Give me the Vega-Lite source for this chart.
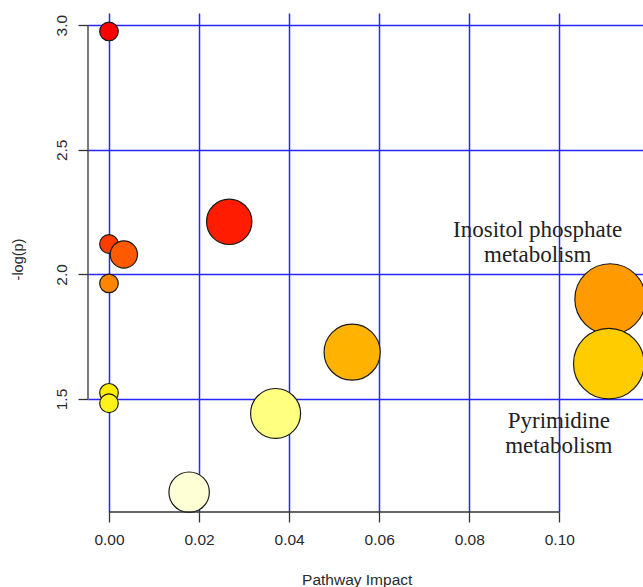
{
  "$schema": "https://vega.github.io/schema/vega-lite/v6.json",
  "width": 555,
  "height": 499,
  "autosize": {"type": "none"},
  "padding": {"left": 88, "top": 13, "right": 0, "bottom": 75},
  "background": "white",
  "config": {"view": {"stroke": null}, "font": "Liberation Sans"},
  "datasets": {
    "pathways": [
      {"impact": 0.0, "logp": 2.975},
      {"impact": 0.0267, "logp": 2.211},
      {"impact": 0.0, "logp": 2.122},
      {"impact": 0.0033, "logp": 2.08},
      {"impact": 0.0, "logp": 1.964},
      {"impact": 0.1113, "logp": 1.901},
      {"impact": 0.054, "logp": 1.688},
      {"impact": 0.1110, "logp": 1.642},
      {"impact": 0.0, "logp": 1.525},
      {"impact": 0.0, "logp": 1.483},
      {"impact": 0.037, "logp": 1.442},
      {"impact": 0.0178, "logp": 1.126}
    ],
    "labels": [
      {"impact": 0.0952, "logp": 2.151, "label": "Inositol phosphate\nmetabolism"},
      {"impact": 0.0999, "logp": 1.385, "label": "Pyrimidine\nmetabolism"}
    ]
  },
  "layer": [
    {
      "data": {"name": "pathways"},
      "mark": {"type": "circle", "opacity": 1, "stroke": "#1a1a1a", "strokeWidth": 1.2},
      "encoding": {
        "x": {
          "field": "impact", "type": "quantitative", "title": "Pathway Impact",
          "scale": {"domain": [-0.00466, 0.11859], "nice": false, "zero": false},
          "axis": {
            "values": [0, 0.02, 0.04, 0.06, 0.08, 0.1], "format": ".2f",
            "domain": false, "tickColor": "#333", "tickSize": 10, "tickWidth": 1.3,
            "grid": true, "gridColor": "#2626ff", "gridWidth": 1.5,
            "labelFont": "Liberation Sans", "labelFontSize": 15.5, "labelColor": "#2a2a2a",
            "labelPadding": 10, "labelBaseline": "top",
            "titleFont": "Liberation Sans", "titleFontSize": 15.5, "titleFontWeight": "normal",
            "titleColor": "#2a2a2a", "titleX": 268.7, "titleY": 72, "titleBaseline": "alphabetic", "titleAlign": "center"
          }
        },
        "y": {
          "field": "logp", "type": "quantitative", "title": "-log(p)",
          "scale": {"domain": [1.0466, 3.049], "nice": false, "zero": false},
          "axis": {
            "values": [1.5, 2, 2.5, 3], "format": ".1f",
            "domain": false, "tickColor": "#333", "tickSize": 10, "tickWidth": 1.3,
            "grid": true, "gridColor": "#2626ff", "gridWidth": 1.5,
            "labelFont": "Liberation Sans", "labelFontSize": 15.5, "labelColor": "#2a2a2a",
            "labelAngle": 270, "labelAlign": "center", "labelBaseline": "bottom", "labelPadding": 9,
            "titleFont": "Liberation Sans", "titleFontSize": 14.5, "titleFontWeight": "normal",
            "titleColor": "#2a2a2a", "titleAngle": 270, "titleX": -70, "titleY": 246,
            "titleAlign": "center", "titleBaseline": "middle"
          }
        },
        "size": {
          "field": "impact", "type": "quantitative",
          "scale": {"type": "pow", "exponent": 0.7, "domain": [0, 0.1113], "range": [346, 4998]},
          "legend": null
        },
        "color": {
          "field": "logp", "type": "ordinal", "sort": "descending",
          "scale": {"range": ["#ff0000", "#ff1c00", "#ff3c00", "#ff5a00", "#ff8400", "#ff9a00", "#ffb200", "#ffcc00", "#ffee00", "#fff21a", "#ffff80", "#ffffd6"]},
          "legend": null
        }
      }
    },
    {
      "data": {"values": [{}]},
      "mark": {"type": "rule", "color": "#333", "strokeWidth": 1.3},
      "encoding": {"x": {"datum": -0.00466}, "y": {"datum": 1.5}, "y2": {"datum": 3.0}}
    },
    {
      "data": {"values": [{}]},
      "mark": {"type": "rule", "color": "#333", "strokeWidth": 1.3},
      "encoding": {"y": {"datum": 1.0466}, "x": {"datum": 0}, "x2": {"datum": 0.1}}
    },
    {
      "data": {"name": "labels"},
      "mark": {"type": "text", "font": "Liberation Serif", "fontSize": 23, "lineBreak": "\n", "lineHeight": 25.5, "align": "center", "baseline": "alphabetic", "color": "#222"},
      "encoding": {
        "x": {"field": "impact", "type": "quantitative", "title": "Pathway Impact"},
        "y": {"field": "logp", "type": "quantitative", "title": "-log(p)"},
        "text": {"field": "label"}
      }
    }
  ]
}
